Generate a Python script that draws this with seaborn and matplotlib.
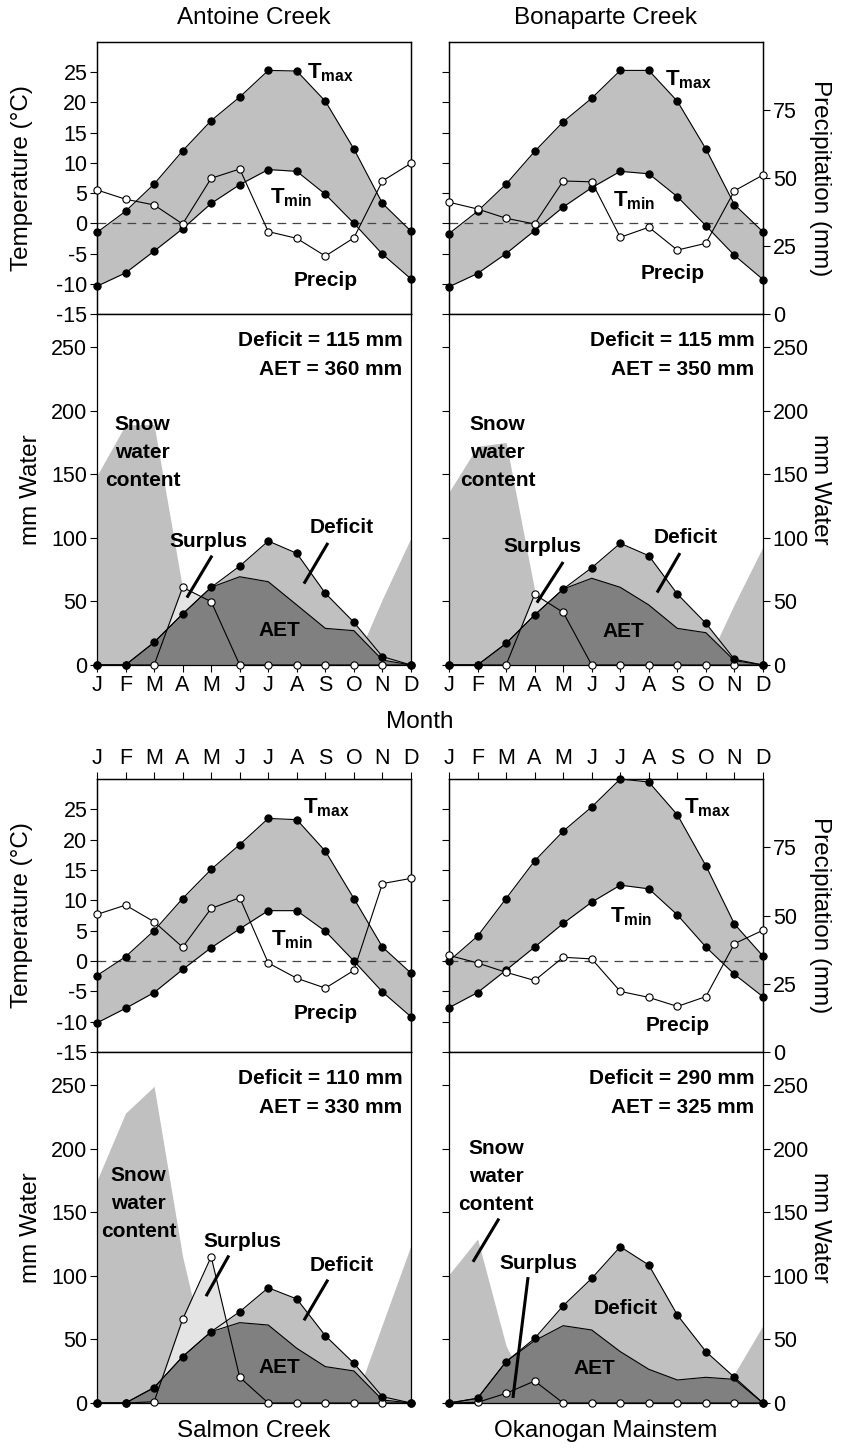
import numpy as np
import pandas as pd
import matplotlib
matplotlib.use('Agg')
import matplotlib.pyplot as plt
import seaborn as sns

sns.set_theme(style='ticks')
plt.rcParams['font.family'] = ['Liberation Sans', 'DejaVu Sans']
plt.rcParams['mathtext.fontset'] = 'custom'
plt.rcParams['mathtext.rm'] = 'Liberation Sans'
plt.rcParams['mathtext.bf'] = 'Liberation Sans:bold'
plt.rcParams['axes.unicode_minus'] = False
plt.rcParams['text.color'] = 'black'
plt.rcParams['axes.labelcolor'] = 'black'
plt.rcParams['xtick.color'] = 'black'
plt.rcParams['ytick.color'] = 'black'

MONTHS = ['J', 'F', 'M', 'A', 'M', 'J', 'J', 'A', 'S', 'O', 'N', 'D']
SITES = ['Antoine Creek', 'Bonaparte Creek', 'Salmon Creek', 'Okanogan Mainstem']

# Temperature (deg C)
ANTOINE_TMAX = [-1.5, 2.0, 6.5, 12.0, 17.0, 20.9, 25.3, 25.2, 20.2, 12.3, 3.3, -1.3]
ANTOINE_TMIN = [-10.4, -8.2, -4.6, -0.9, 3.3, 6.4, 8.9, 8.6, 4.8, 0.0, -5.1, -9.2]
BONAPARTE_TMAX = [-1.7, 2.0, 6.5, 11.9, 16.8, 20.7, 25.3, 25.3, 20.2, 12.3, 3.1, -1.4]
BONAPARTE_TMIN = [-10.5, -8.3, -5.0, -1.2, 2.7, 5.9, 8.6, 8.2, 4.4, -0.4, -5.3, -9.3]
SALMON_TMAX = [-2.4, 0.7, 5.0, 10.3, 15.1, 19.2, 23.5, 23.3, 18.1, 10.3, 2.3, -2.0]
SALMON_TMIN = [-10.2, -7.8, -5.2, -1.4, 2.2, 5.3, 8.3, 8.3, 4.9, 0.0, -5.1, -9.2]
OKANOGAN_TMAX = [0.0, 4.1, 10.3, 16.5, 21.4, 25.4, 30.0, 29.5, 24.1, 15.7, 6.1, 0.8]
OKANOGAN_TMIN = [-7.7, -5.2, -1.5, 2.3, 6.2, 9.7, 12.5, 11.9, 7.6, 2.3, -2.2, -5.9]

# Precipitation (mm)
ANTOINE_PRECIP = [45.6, 42.2, 40.1, 33.1, 49.9, 53.3, 30.3, 27.8, 21.3, 28.0, 48.9, 55.4]
BONAPARTE_PRECIP = [41.1, 38.6, 35.2, 33.1, 48.9, 48.6, 28.2, 31.9, 23.5, 26.0, 45.3, 51.1]
SALMON_PRECIP = [50.4, 53.8, 47.7, 38.4, 52.6, 56.5, 32.6, 27.0, 23.4, 29.9, 61.7, 63.6]
OKANOGAN_PRECIP = [35.4, 32.6, 29.2, 26.2, 34.7, 34.1, 22.2, 20.0, 16.7, 20.3, 39.7, 44.6]

# Water balance (mm)
ANTOINE_SNOW = [149, 189, 189, 60, 0, 0, 0, 0, 0, 0, 52, 100]
ANTOINE_PET = [0, 0, 17.8, 40.1, 61.1, 77.8, 97.5, 87.8, 56.4, 33.6, 6.6, 0]
ANTOINE_AET = [0, 0, 17.8, 40.1, 61.1, 69.4, 65.5, 47.2, 28.8, 27.0, 3.9, 0]
ANTOINE_SURPLUS = [0, 0, 0, 61.1, 49.8, 0, 0, 0, 0, 0, 0, 0]

BONAPARTE_SNOW = [136, 172, 175, 59, 0, 0, 0, 0, 0, 0, 48, 93]
BONAPARTE_PET = [0, 0, 17.0, 39.3, 59.7, 76.5, 95.7, 85.9, 55.8, 32.8, 4.5, 0]
BONAPARTE_AET = [0, 0, 17.0, 39.3, 59.7, 68.2, 61.1, 47.2, 28.8, 25.4, 3.4, 0]
BONAPARTE_SURPLUS = [0, 0, 0, 55.5, 41.4, 0, 0, 0, 0, 0, 0, 0]

SALMON_SNOW = [175, 228, 249, 115, 20, 0, 0, 0, 0, 0, 62, 124]
SALMON_PET = [0, 0, 12.1, 36.4, 56.1, 71.8, 90.6, 81.8, 52.9, 31.2, 5.0, 0]
SALMON_AET = [0, 0, 12.1, 36.4, 56.1, 63.2, 61.3, 43.0, 28.6, 25.2, 2.4, 0]
SALMON_SURPLUS = [0, 0, 1.0, 65.8, 115.0, 20.2, 0, 0, 0, 0, 0, 0]

OKANOGAN_SNOW = [101, 129, 45, 0, 0, 0, 0, 0, 0, 0, 23, 61]
OKANOGAN_PET = [0, 3.7, 32.5, 50.8, 76.5, 98.0, 122.9, 108.5, 69.2, 40.4, 20.2, 0]
OKANOGAN_AET = [0, 3.7, 32.5, 49.0, 60.8, 57.4, 40.4, 26.5, 18.1, 20.2, 18.6, 0]
OKANOGAN_SURPLUS = [0, 0.5, 7.6, 17.3, 0, 0, 0, 0, 0, 0, 0, 0]

DEFICIT_TOTAL = [115, 115, 110, 290]
AET_TOTAL = [360, 350, 330, 325]

TEMP_DATA = [
    (ANTOINE_TMAX, ANTOINE_TMIN, ANTOINE_PRECIP),
    (BONAPARTE_TMAX, BONAPARTE_TMIN, BONAPARTE_PRECIP),
    (SALMON_TMAX, SALMON_TMIN, SALMON_PRECIP),
    (OKANOGAN_TMAX, OKANOGAN_TMIN, OKANOGAN_PRECIP),
]
WATER_DATA = [
    (ANTOINE_SNOW, ANTOINE_PET, ANTOINE_AET, ANTOINE_SURPLUS),
    (BONAPARTE_SNOW, BONAPARTE_PET, BONAPARTE_AET, BONAPARTE_SURPLUS),
    (SALMON_SNOW, SALMON_PET, SALMON_AET, SALMON_SURPLUS),
    (OKANOGAN_SNOW, OKANOGAN_PET, OKANOGAN_AET, OKANOGAN_SURPLUS),
]

# Label placement (data coords): tmax, tmin, precip
TEMP_LABELS = [
    ((7.35, 25.0), (6.05, 4.3), (8.0, -9.4)),
    ((7.55, 23.7), (5.75, 3.8), (7.85, -8.3)),
    ((7.2, 25.3), (6.1, 3.5), (8.0, -8.6)),
    ((8.25, 25.3), (5.65, 7.3), (8.0, -10.6)),
]
# snow, surplus, surplus leader, deficit, deficit leader, aet, snow leader
WATER_LABELS = [
    ((1.6, 167), (3.9, 97), ((4.03, 86), (3.15, 53)), (8.58, 108), ((8.09, 96), (7.25, 64)), (6.4, 27), None),
    ((1.7, 167), (3.26, 93), ((4.0, 81), (3.08, 49)), (8.3, 100), ((8.09, 88), (7.29, 57)), (6.1, 26), None),
    ((1.45, 157), (5.1, 127), ((4.62, 116), (3.82, 84)), (8.58, 108), ((8.09, 97), (7.25, 65)), (6.4, 28), None),
    ((1.65, 178), (3.12, 110), ((2.77, 99), (2.24, 4)), (6.2, 74), None, (5.1, 27), ((1.75, 145), (0.84, 111))),
]

# Layout in pixels
W, H = 841, 1448
COL_X = [97, 449]
AX_W = 314
ROWS = [(42, 314, 665), (779, 1052, 1403)]

FS = 15          # bold annotations
TICK_FS = 15.5   # tick labels
LABEL_FS = 17.5  # titles and axis labels
BAND = '#c0c0c0'
DARK = '#808080'
LIGHT = '#e4e4e4'

fig = plt.figure(figsize=(W / 100, H / 100), dpi=100)


def px_axes(x0, y0, x1, y1):
    return fig.add_axes([x0 / W, 1 - y1 / H, (x1 - x0) / W, (y1 - y0) / H])


def line(ax, x, y, face):
    df = pd.DataFrame({'month': x, 'val': y})
    sns.lineplot(data=df, x='month', y='val', ax=ax, color='black', lw=0.8,
                 marker='o', markersize=5.2, markerfacecolor=face,
                 markeredgecolor='black', markeredgewidth=0.8,
                 clip_on=False, legend=False, zorder=5)


def style_spines(ax):
    for s in ax.spines.values():
        s.set_linewidth(0.9)
        s.set_color('black')


def draw_temp(ax, idx, is_left, top_labels):
    tmax, tmin, precip = TEMP_DATA[idx]
    x = np.arange(12)
    ax.fill_between(x, tmin, tmax, color=BAND, lw=0, zorder=1)
    ax.axhline(0, color='#444444', lw=0.9, ls=(0, (7, 5)), zorder=2)
    line(ax, x, tmax, 'black')
    line(ax, x, tmin, 'black')
    ax.set_xlim(0, 11)
    ax.set_ylim(-15, 30)
    ax.set_yticks(range(-15, 30, 5))
    ax.set_xticks(x)
    ax.set_xlabel('')
    ax.set_ylabel('')
    ax.tick_params(axis='both', direction='out', length=5, width=0.8,
                   labelsize=TICK_FS, pad=2)
    if top_labels:
        ax.tick_params(axis='x', top=True, labeltop=True, bottom=True,
                       labelbottom=False)
        ax.set_xticklabels(MONTHS)
    else:
        ax.tick_params(axis='x', labelbottom=False)
    if not is_left:
        ax.tick_params(axis='y', labelleft=False)

    ax2 = ax.twinx()
    line(ax2, x, precip, 'white')
    ax2.set_ylim(0, 100)
    ax2.set_xlim(0, 11)
    ax2.set_xlabel('')
    ax2.set_ylabel('')
    if is_left:
        ax2.set_yticks([])
        ax.set_ylabel('Temperature (°C)', fontsize=LABEL_FS)
        ax.yaxis.set_label_coords(-0.205, 0.5)
    else:
        ax2.set_yticks([0, 25, 50, 75])
        ax2.tick_params(axis='y', direction='out', length=5, width=0.8,
                        labelsize=TICK_FS, pad=2)
        ax2.set_ylabel('Precipitation (mm)', fontsize=LABEL_FS, rotation=270,
                       va='bottom')
        ax2.yaxis.set_label_coords(1.148, 0.5)

    (tx, ty), (nx, ny), (px_, py) = TEMP_LABELS[idx]
    to_p = lambda t: (t + 15) / 45 * 100
    ax2.text(tx, to_p(ty), r'$\mathbf{T}_{\mathbf{max}}$', fontsize=FS + 1,
             ha='left', va='center', zorder=6)
    ax2.text(nx, to_p(ny), r'$\mathbf{T}_{\mathbf{min}}$', fontsize=FS + 1,
             ha='left', va='center', zorder=6)
    ax2.text(px_, to_p(py), 'Precip', fontsize=FS, fontweight='bold',
             ha='center', va='center', zorder=6)
    style_spines(ax)
    style_spines(ax2)


def draw_water(ax, idx, is_left, bottom_labels):
    snow, pet, aet, surplus = WATER_DATA[idx]
    x = np.arange(12)
    ax.fill_between(x, 0, snow, color=BAND, lw=0, zorder=1)
    ax.fill_between(x, 0, pet, color=BAND, lw=0, zorder=1)
    ax.fill_between(x, 0, surplus, color=LIGHT, lw=0, zorder=1)
    ax.fill_between(x, 0, aet, color=DARK, lw=0, zorder=1)
    sns.lineplot(x=x, y=aet, ax=ax, color='black', lw=0.8, legend=False, zorder=3)
    line(ax, x, surplus, 'white')
    line(ax, x, pet, 'black')
    ax.set_xlim(0, 11)
    ax.set_ylim(0, 276)
    ax.set_yticks(range(0, 251, 50))
    ax.set_xticks(x)
    ax.set_xlabel('')
    ax.set_ylabel('')
    ax.tick_params(axis='both', direction='out', length=5, width=0.8,
                   labelsize=TICK_FS, pad=2)
    if bottom_labels:
        ax.set_xticklabels(MONTHS)
    else:
        ax.tick_params(axis='x', bottom=False, labelbottom=False)
    if is_left:
        ax.set_ylabel('mm Water', fontsize=LABEL_FS)
        ax.yaxis.set_label_coords(-0.175, 0.5)
    else:
        ax.tick_params(axis='y', left=True, labelleft=False, right=True,
                       labelright=True)
        ax.yaxis.set_label_position('right')
        ax.set_ylabel('mm Water', fontsize=LABEL_FS, rotation=270, va='bottom')
        ax.yaxis.set_label_coords(1.148, 0.5)

    snow_xy, sur_xy, sur_ln, def_xy, def_ln, aet_xy, snow_ln = WATER_LABELS[idx]
    bold = dict(fontsize=FS, fontweight='bold', zorder=7)
    ax.text(10.7, 255, f'Deficit = {DEFICIT_TOTAL[idx]} mm', ha='right', va='center', **bold)
    ax.text(10.7, 232, f'AET = {AET_TOTAL[idx]} mm', ha='right', va='center', **bold)
    ax.text(*snow_xy, 'Snow\nwater\ncontent', ha='center', va='center',
            linespacing=1.6, **bold)
    ax.text(*sur_xy, 'Surplus', ha='center', va='center', **bold)
    ax.text(*def_xy, 'Deficit', ha='center', va='center', **bold)
    ax.text(*aet_xy, 'AET', ha='center', va='center', **bold)
    for ln in (sur_ln, def_ln, snow_ln):
        if ln is not None:
            ax.plot([ln[0][0], ln[1][0]], [ln[0][1], ln[1][1]], color='black',
                    lw=2.2, solid_capstyle='butt', zorder=7)
    style_spines(ax)


for r, (y0, y1, y2) in enumerate(ROWS):
    for c, x0 in enumerate(COL_X):
        idx = r * 2 + c
        ax_t = px_axes(x0, y0, x0 + AX_W, y1)
        ax_w = px_axes(x0, y1, x0 + AX_W, y2)
        draw_temp(ax_t, idx, c == 0, top_labels=(r == 1))
        draw_water(ax_w, idx, c == 0, bottom_labels=(r == 0))

fig.text(254 / W, 1 - 18 / H, SITES[0], ha='center', va='center', fontsize=LABEL_FS)
fig.text(606 / W, 1 - 18 / H, SITES[1], ha='center', va='center', fontsize=LABEL_FS)
fig.text(254 / W, 1 - 1431 / H, SITES[2], ha='center', va='center', fontsize=LABEL_FS)
fig.text(606 / W, 1 - 1431 / H, SITES[3], ha='center', va='center', fontsize=LABEL_FS)
fig.text(420 / W, 1 - 722 / H, 'Month', ha='center', va='center', fontsize=LABEL_FS)

fig.savefig('out.png', dpi=100, facecolor='white')
